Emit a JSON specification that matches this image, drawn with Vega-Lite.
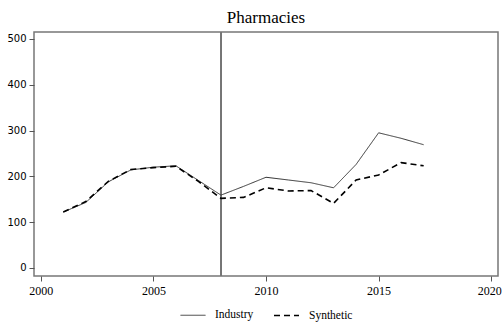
{
  "$schema": "https://vega.github.io/schema/vega-lite/v6.json",
  "width": 464,
  "height": 244,
  "autosize": {"type": "none"},
  "padding": {"left": 34, "top": 32, "right": 5, "bottom": 51},
  "background": "white",
  "title": {"text": "Pharmacies", "font": "serif", "fontSize": 17, "fontWeight": "normal", "color": "#000", "anchor": "middle", "offset": 5},
  "config": {
    "view": {"stroke": "#777", "strokeWidth": 1.5},
    "axis": {"grid": false, "domain": false, "tickColor": "#555", "tickSize": 5, "labelColor": "#000", "title": null},
    "legend": {"orient": "none", "legendX": 146, "legendY": 270, "direction": "horizontal", "labelFont": "serif", "labelFontSize": 11.5, "labelColor": "#000", "symbolType": "stroke", "symbolSize": 625, "columnPadding": 16, "labelOffset": 9}
  },
  "data": {"values": [
    {"year": 2001, "series": "Industry", "value": 122},
    {"year": 2002, "series": "Industry", "value": 143},
    {"year": 2003, "series": "Industry", "value": 188},
    {"year": 2004, "series": "Industry", "value": 214},
    {"year": 2005, "series": "Industry", "value": 220},
    {"year": 2006, "series": "Industry", "value": 223},
    {"year": 2007, "series": "Industry", "value": 191},
    {"year": 2008, "series": "Industry", "value": 159},
    {"year": 2009, "series": "Industry", "value": 178},
    {"year": 2010, "series": "Industry", "value": 198},
    {"year": 2011, "series": "Industry", "value": 192},
    {"year": 2012, "series": "Industry", "value": 186},
    {"year": 2013, "series": "Industry", "value": 175},
    {"year": 2014, "series": "Industry", "value": 226},
    {"year": 2015, "series": "Industry", "value": 295},
    {"year": 2016, "series": "Industry", "value": 283},
    {"year": 2017, "series": "Industry", "value": 269},
    {"year": 2001, "series": "Synthetic", "value": 122},
    {"year": 2002, "series": "Synthetic", "value": 145},
    {"year": 2003, "series": "Synthetic", "value": 189},
    {"year": 2004, "series": "Synthetic", "value": 215},
    {"year": 2005, "series": "Synthetic", "value": 219},
    {"year": 2006, "series": "Synthetic", "value": 222},
    {"year": 2007, "series": "Synthetic", "value": 189},
    {"year": 2008, "series": "Synthetic", "value": 152},
    {"year": 2009, "series": "Synthetic", "value": 154},
    {"year": 2010, "series": "Synthetic", "value": 175},
    {"year": 2011, "series": "Synthetic", "value": 168},
    {"year": 2012, "series": "Synthetic", "value": 169},
    {"year": 2013, "series": "Synthetic", "value": 141},
    {"year": 2014, "series": "Synthetic", "value": 192},
    {"year": 2015, "series": "Synthetic", "value": 203},
    {"year": 2016, "series": "Synthetic", "value": 230},
    {"year": 2017, "series": "Synthetic", "value": 223}
  ]},
  "layer": [
    {
      "mark": {"type": "rule", "color": "#777", "strokeWidth": 0.8},
      "encoding": {"x": {"datum": 2008, "type": "quantitative"}}
    },
    {
      "mark": {"type": "line"},
      "encoding": {
        "x": {"field": "year", "type": "quantitative",
          "scale": {"domain": [1999.7, 2020.3], "nice": false, "zero": false},
          "axis": {"values": [2000, 2005, 2010, 2015, 2020], "format": "d", "labelFont": "serif", "labelFontSize": 12, "labelPadding": 4,
            "labelOffset": {"condition": {"test": "datum.value == 2020", "value": -2}, "value": 0}}},
        "y": {"field": "value", "type": "quantitative",
          "scale": {"domain": [-17.5, 515], "nice": false, "zero": false},
          "axis": {"values": [0, 100, 200, 300, 400, 500], "labelFont": "DejaVu Sans", "labelFontSize": 10, "labelPadding": 3}},
        "color": {"field": "series", "type": "nominal",
          "scale": {"domain": ["Industry", "Synthetic"], "range": ["#333", "#000"]}, "title": null},
        "strokeDash": {"field": "series", "type": "nominal",
          "scale": {"domain": ["Industry", "Synthetic"], "range": [[1, 0], [6, 4]]}, "title": null},
        "strokeWidth": {"field": "series", "type": "nominal",
          "scale": {"domain": ["Industry", "Synthetic"], "range": [1, 1.6]}, "title": null}
      }
    }
  ]
}
